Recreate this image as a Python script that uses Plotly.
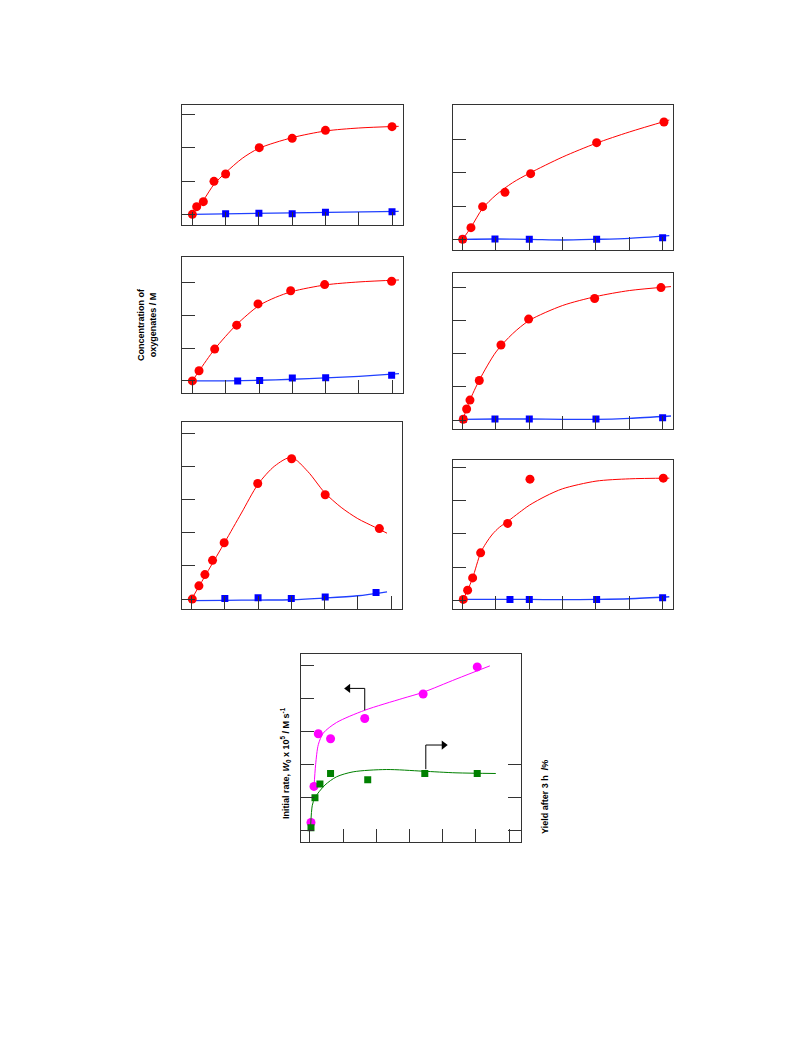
import plotly.graph_objects as go

# ---------------- data ----------------
# Panel 1 (top-left)
p1_red_x = [0, 0.13, 0.33, 0.65, 1.0, 2.01, 3.0, 4.0, 6.0]
p1_red_y = [0, 0.23, 0.38, 0.99, 1.21, 2.0, 2.28, 2.52, 2.63]
p1_blue_x = [1.0, 2.0, 3.0, 4.0, 6.0]
p1_blue_y = [0.02, 0.03, 0.02, 0.06, 0.08]
p1_fit_red_x = [0, 0.15, 0.35, 0.65, 1.0, 1.5, 2.0, 3.0, 4.0, 5.0, 6.2]
p1_fit_red_y = [0, 0.2, 0.45, 0.9, 1.25, 1.68, 1.98, 2.3, 2.5, 2.59, 2.64]
p1_fit_blue_x = [0, 3.0, 6.2]
p1_fit_blue_y = [0, 0.045, 0.09]

# Panel 2 (top-right)
p2_red_x = [0, 0.25, 0.6, 1.27, 2.04, 4.02, 6.04]
p2_red_y = [0, 0.35, 0.98, 1.41, 1.97, 2.9, 3.52]
p2_blue_x = [0, 0.97, 2.0, 4.02, 6.0]
p2_blue_y = [0, 0.01, 0, 0, 0.05]
p2_fit_red_x = [0, 0.25, 0.6, 1.0, 1.5, 2.0, 3.0, 4.0, 5.0, 6.2]
p2_fit_red_y = [0, 0.36, 0.93, 1.33, 1.7, 1.98, 2.47, 2.88, 3.22, 3.58]
p2_fit_blue_x = [0, 1.0, 2.0, 3.0, 4.0, 5.0, 6.2]
p2_fit_blue_y = [0, 0.01, 0, -0.02, 0, 0.03, 0.11]

# Panel 3 (middle-left)
p3_red_x = [0, 0.2, 0.67, 1.33, 1.97, 2.95, 3.97, 5.98]
p3_red_y = [0, 0.31, 0.97, 1.70, 2.35, 2.75, 2.94, 3.04]
p3_blue_x = [1.36, 2.02, 3.0, 4.0, 5.98]
p3_blue_y = [0, 0.01, 0.09, 0.10, 0.17]
p3_fit_red_x = [0, 0.2, 0.67, 1.33, 2.0, 2.5, 3.0, 4.0, 5.0, 6.2]
p3_fit_red_y = [0, 0.3, 0.97, 1.72, 2.3, 2.55, 2.73, 2.93, 3.02, 3.08]
p3_fit_blue_x = [0, 1.0, 2.0, 3.0, 4.0, 5.0, 6.2]
p3_fit_blue_y = [0, 0, 0.02, 0.05, 0.09, 0.14, 0.22]

# Panel 4 (middle-right)
p4_red_x = [0.02, 0.12, 0.22, 0.5, 1.15, 1.98, 3.96, 5.95]
p4_red_y = [0.02, 0.33, 0.6, 1.19, 2.26, 3.04, 3.66, 3.99]
p4_blue_x = [0.02, 0.97, 2.0, 4.0, 6.0]
p4_blue_y = [0.02, 0.03, 0.03, 0.03, 0.07]
p4_fit_red_x = [0, 0.12, 0.22, 0.5, 1.0, 1.5, 2.0, 3.0, 4.0, 5.0, 6.25]
p4_fit_red_y = [0, 0.33, 0.6, 1.2, 2.05, 2.6, 3.0, 3.45, 3.72, 3.9, 4.02]
p4_fit_blue_x = [0, 1.0, 2.0, 3.0, 4.0, 5.0, 6.25]
p4_fit_blue_y = [0.02, 0.03, 0.03, 0.02, 0.02, 0.05, 0.12]

# Panel 5 (bottom-left)
p5_red_x = [0.02, 0.22, 0.4, 0.63, 0.98, 1.99, 3.01, 4.02, 5.65]
p5_red_y = [0, 0.4, 0.74, 1.17, 1.7, 3.49, 4.24, 3.15, 2.13]
p5_blue_x = [1.0, 2.0, 3.0, 4.02, 5.55]
p5_blue_y = [0.02, 0.04, 0.02, 0.06, 0.2]
p5_fit_red_x = [0, 0.5, 1.0, 1.5, 2.0, 2.5, 3.0, 3.5, 4.0, 4.5, 5.0, 5.5, 5.88]
p5_fit_red_y = [0, 0.86, 1.72, 2.6, 3.47, 4.02, 4.28, 3.85, 3.22, 2.77, 2.43, 2.18, 1.99]
p5_fit_blue_x = [0, 1.0, 2.0, 3.0, 4.0, 5.0, 5.88]
p5_fit_blue_y = [-0.05, -0.04, -0.03, -0.02, 0.03, 0.1, 0.22]

# Panel 6 (bottom-right)
p6_red_x = [0.02, 0.15, 0.3, 0.54, 1.35, 2.02, 6.02]
p6_red_y = [0.02, 0.3, 0.67, 1.43, 2.32, 3.66, 3.69]
p6_blue_x = [1.42, 2.0, 4.02, 6.0]
p6_blue_y = [0.02, 0.02, 0.02, 0.07]
p6_fit_red_x = [0, 0.15, 0.3, 0.54, 0.7, 0.9, 1.1, 1.35, 1.7, 2.0, 2.5, 3.0, 4.0, 5.0, 6.2]
p6_fit_red_y = [0, 0.3, 0.67, 1.43, 1.72, 2.0, 2.2, 2.38, 2.65, 2.87, 3.15, 3.37, 3.6, 3.67, 3.69]
p6_fit_blue_x = [0, 2.0, 3.0, 4.0, 5.0, 6.2]
p6_fit_blue_y = [0.02, 0.02, 0.01, 0.02, 0.04, 0.1]

# Bottom panel: initial rate (left axis) and yield (right axis)
rate_x = [0.03, 0.12, 0.25, 0.62, 1.65, 3.41, 5.04]
rate_y = [0.25, 1.34, 2.93, 2.78, 3.39, 4.13, 4.95]
yield_x = [0.03, 0.15, 0.3, 0.62, 1.74, 3.46, 5.04]
yield_y = [0.09, 1.0, 1.41, 1.73, 1.54, 1.73, 1.73]
rate_fit_x = [0.12, 0.17, 0.25, 0.4, 0.8, 1.65, 2.8, 3.4, 4.4, 5.42]
rate_fit_y = [1.3, 2.0, 2.6, 2.95, 3.27, 3.64, 4.0, 4.18, 4.58, 4.98]
yield_fit_x = [0.02, 0.07, 0.15, 0.45, 0.8, 1.3, 2.3, 3.4, 4.4, 5.6]
yield_fit_y = [0.15, 0.77, 1.0, 1.38, 1.63, 1.78, 1.85, 1.8, 1.75, 1.73]
arrow_rate_x = [1.65, 1.65, 1.15]
arrow_rate_y = [3.64, 4.3, 4.3]
arrow_yield_x = [3.49, 3.49, 4.03]
arrow_yield_y = [1.86, 2.59, 2.59]

# ---------------- layout geometry ----------------
PAGE_W, PAGE_H = 793, 1057
OFF = 8  # default body margin of the html page
W, H = PAGE_W - 2 * OFF, PAGE_H - 2 * OFF
RED, BLUE, MAG, GRN = "#ff0000", "#0000ff", "#ff00ff", "#008000"
AXC = "#333333"


def px_x(p):
    return (p - OFF) / W


def px_y(p):
    return 1 - (p - OFF) / H


# (left, right, top, bottom) in page pixels, x range, y range, y tick values
panels = [
    ((181.7, 403.0, 105.0, 225.0), [-0.32, 6.33], [-0.32, 3.28], [0, 1, 2, 3]),
    ((453.3, 673.3, 105.0, 250.0), [-0.28, 6.32], [-0.32, 4.03], [0, 1, 2, 3]),
    ((181.7, 403.3, 256.7, 392.7), [-0.32, 6.33], [-0.36, 3.79], [0, 1, 2, 3]),
    ((453.3, 673.3, 273.3, 429.3), [-0.28, 6.32], [-0.28, 4.42], [0, 1, 2, 3, 4]),
    ((182.3, 402.3, 422.3, 609.0), [-0.28, 6.34], [-0.30, 5.34], [0, 1, 2, 3, 4, 5]),
    ((453.3, 673.3, 460.0, 609.3), [-0.28, 6.32], [-0.28, 4.24], [0, 1, 2, 3, 4]),
    ((300.7, 520.7, 654.3, 841.7), [-0.28, 6.35], [-0.33, 5.33], [0, 1, 2, 3, 4, 5]),
]

fig = go.Figure()
layout = dict(width=W, height=H, margin=dict(l=0, r=0, t=0, b=0),
              paper_bgcolor="white", plot_bgcolor="white", showlegend=False)

for i, ((l, r, t, b), xr, yr, yt) in enumerate(panels, start=1):
    xa = dict(domain=[px_x(l), px_x(r)], range=xr, anchor=f"y{i}" if i > 1 else "y",
              showgrid=False, zeroline=False, showticklabels=False,
              ticks="inside", ticklen=13, tickwidth=1, tickcolor=AXC,
              tickvals=[0, 1, 2, 3, 4, 5, 6],
              showline=True, linecolor=AXC, linewidth=1, mirror=True)
    ya = dict(domain=[px_y(b), px_y(t)], range=yr, anchor=f"x{i}" if i > 1 else "x",
              showgrid=False, zeroline=False, showticklabels=False,
              ticks="inside", ticklen=13, tickwidth=1, tickcolor=AXC,
              tickvals=yt,
              showline=True, linecolor=AXC, linewidth=1, mirror=True)
    layout["xaxis" if i == 1 else f"xaxis{i}"] = xa
    layout["yaxis" if i == 1 else f"yaxis{i}"] = ya

# secondary (right) axis of bottom panel
layout["yaxis8"] = dict(overlaying="y7", side="right", anchor="x7",
                        range=[-0.33, 5.33], tickvals=[0, 1, 2],
                        showgrid=False, zeroline=False, showticklabels=False,
                        ticks="inside", ticklen=13, tickwidth=1, tickcolor=AXC,
                        showline=False)
fig.update_layout(**layout)


def ax(i):
    return ("x", "y") if i == 1 else (f"x{i}", f"y{i}")


panel_data = [
    (p1_red_x, p1_red_y, p1_blue_x, p1_blue_y, p1_fit_red_x, p1_fit_red_y, p1_fit_blue_x, p1_fit_blue_y),
    (p2_red_x, p2_red_y, p2_blue_x, p2_blue_y, p2_fit_red_x, p2_fit_red_y, p2_fit_blue_x, p2_fit_blue_y),
    (p3_red_x, p3_red_y, p3_blue_x, p3_blue_y, p3_fit_red_x, p3_fit_red_y, p3_fit_blue_x, p3_fit_blue_y),
    (p4_red_x, p4_red_y, p4_blue_x, p4_blue_y, p4_fit_red_x, p4_fit_red_y, p4_fit_blue_x, p4_fit_blue_y),
    (p5_red_x, p5_red_y, p5_blue_x, p5_blue_y, p5_fit_red_x, p5_fit_red_y, p5_fit_blue_x, p5_fit_blue_y),
    (p6_red_x, p6_red_y, p6_blue_x, p6_blue_y, p6_fit_red_x, p6_fit_red_y, p6_fit_blue_x, p6_fit_blue_y),
]

for i, (rx, ry, bx, by, frx, fry, fbx, fby) in enumerate(panel_data, start=1):
    xa, ya = ax(i)
    fig.add_trace(go.Scatter(x=fbx, y=fby, mode="lines", xaxis=xa, yaxis=ya,
                             line=dict(color="#2040ff", width=1.3, shape="spline", smoothing=0.8)))
    fig.add_trace(go.Scatter(x=frx, y=fry, mode="lines", xaxis=xa, yaxis=ya,
                             line=dict(color=RED, width=1, shape="spline", smoothing=0.8)))
    fig.add_trace(go.Scatter(x=bx, y=by, mode="markers", xaxis=xa, yaxis=ya,
                             marker=dict(symbol="square", size=7, color=BLUE)))
    fig.add_trace(go.Scatter(x=rx, y=ry, mode="markers", xaxis=xa, yaxis=ya,
                             marker=dict(symbol="circle", size=9, color=RED)))

# bottom panel
fig.add_trace(go.Scatter(x=yield_fit_x, y=yield_fit_y, mode="lines", xaxis="x7", yaxis="y8",
                         line=dict(color=GRN, width=1, shape="spline", smoothing=0.8)))
fig.add_trace(go.Scatter(x=rate_fit_x, y=rate_fit_y, mode="lines", xaxis="x7", yaxis="y7",
                         line=dict(color=MAG, width=1, shape="spline", smoothing=0.8)))
fig.add_trace(go.Scatter(x=yield_x, y=yield_y, mode="markers", xaxis="x7", yaxis="y8",
                         marker=dict(symbol="square", size=7, color=GRN)))
fig.add_trace(go.Scatter(x=rate_x, y=rate_y, mode="markers", xaxis="x7", yaxis="y7",
                         marker=dict(symbol="circle", size=9, color=MAG)))

# arrows (L-shaped line with a triangular head at the end)
for axx, axy, head in [(arrow_rate_x, arrow_rate_y, "triangle-left"),
                       (arrow_yield_x, arrow_yield_y, "triangle-right")]:
    fig.add_trace(go.Scatter(x=axx, y=axy, mode="lines", xaxis="x7", yaxis="y7",
                             line=dict(color="black", width=1)))
    fig.add_trace(go.Scatter(x=axx[-1:], y=axy[-1:], mode="markers", xaxis="x7", yaxis="y7",
                             marker=dict(symbol=head, size=8, color="black")))

# axis titles
FONT = dict(family="Liberation Sans, Arial, sans-serif", size=9, color="black")
fig.add_annotation(x=px_x(147), y=px_y(325), xref="paper", yref="paper",
                   xanchor="center", yanchor="middle",
                   text="<b>Concentration of<br>oxygenates / M</b>", textangle=-90,
                   showarrow=False, font=FONT, align="center")
fig.add_annotation(x=px_x(285), y=px_y(763), xref="paper", yref="paper",
                   xanchor="center", yanchor="middle",
                   text="<b>Initial rate, <i>W</i><sub>0</sub> x 10<sup>5</sup> / M s<sup>-1</sup></b>",
                   textangle=-90, showarrow=False, font=FONT)
fig.add_annotation(x=px_x(545), y=px_y(797), xref="paper", yref="paper",
                   xanchor="center", yanchor="middle",
                   text="<b>Yield after 3 h  /%</b>", textangle=-90, showarrow=False, font=FONT)

fig.write_html("out.html")
